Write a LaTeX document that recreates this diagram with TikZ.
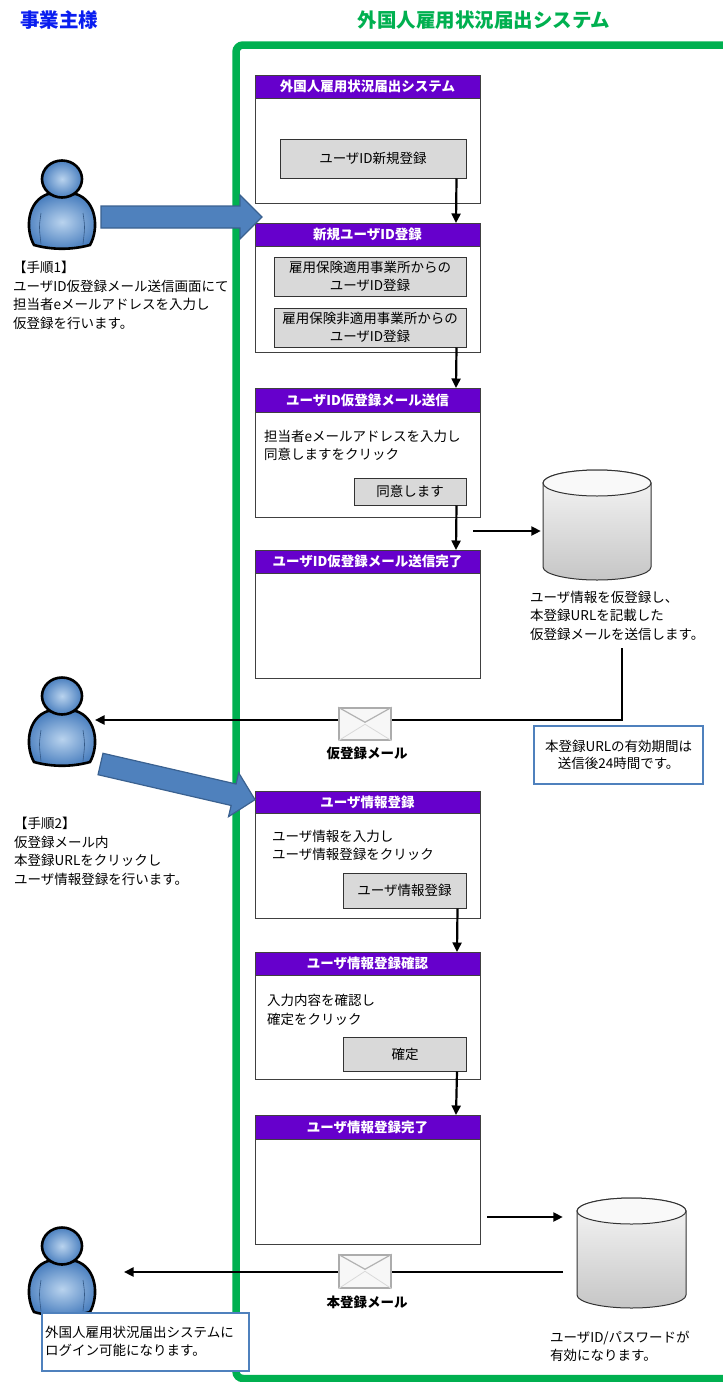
\documentclass[tikz,border=0pt]{standalone}
\usepackage{fontspec}
\setmainfont{Noto Sans CJK JP}
\usetikzlibrary{arrows.meta,calc}
\definecolor{grn}{HTML}{00B050}
\definecolor{hdrc}{HTML}{6600CC}
\definecolor{ttlblue}{HTML}{0A1EF0}
\definecolor{arrblue}{HTML}{4F81BD}
\definecolor{arrdark}{HTML}{3A6190}
\definecolor{btngray}{HTML}{D9D9D9}
\definecolor{pl}{HTML}{B9D3EE}
\definecolor{pd}{HTML}{4A7FBF}
\tikzset{
  screen/.style={draw=black!75, line width=1pt, fill=white, rectangle, anchor=north west,
    minimum width=225pt, inner sep=0pt, outer sep=0pt},
  hdr/.style={draw=black!75, line width=1pt, fill=hdrc, text=white, anchor=north,
    minimum width=225pt, minimum height=23pt, inner sep=0pt, outer sep=0pt,
    font=\fontsize{13.5}{15}\selectfont\bfseries},
  btn/.style={draw=black!80, line width=1pt, fill=btngray, rectangle, inner sep=0pt,
    align=center, font=\fontsize{13.5}{18}\selectfont},
  txt/.style={inner sep=0pt, align=left, anchor=west, font=\fontsize{13.5}{18.5}\selectfont},
  lbl/.style={inner sep=0pt, font=\fontsize{13.5}{16}\selectfont\bfseries},
  conn/.style={line width=2.2pt, -{Triangle[length=9.5pt,width=9pt]}},
  note/.style={draw=arrblue, line width=2.2pt, fill=white, inner sep=0pt, anchor=north west},
  env/.style={draw=gray!65, line width=1.5pt, fill=gray!6, minimum width=52pt,
    minimum height=32pt, inner sep=0pt},
  bigarrow/.style={fill=arrblue, draw=arrdark, line width=1.2pt},
  person/.pic={
    \shadedraw[inner color=pl, outer color=pd, draw=black, line width=2.6pt]
      (-28,66) .. controls (-37,50) and (-35,22) .. (-14,15) -- (14,15)
      .. controls (35,22) and (37,50) .. (28,66)
      .. controls (10,71) and (-10,71) .. (-28,66) -- cycle;
    \draw[pd!70!black, line width=0.6pt] (-21,34) .. controls (-23,48) .. (-21,65);
    \draw[pd!70!black, line width=0.6pt] (21,34) .. controls (23,48) .. (21,65);
    \shadedraw[inner color=pl, outer color=pd, draw=black, line width=2.6pt]
      (0,0) ellipse [x radius=20pt, y radius=18.5pt];
  }
}
\begin{document}
\begin{tikzpicture}[x=1pt,y=-1pt]
\useasboundingbox (0,0) rectangle (723,1382);

% titles
\node[inner sep=0pt, anchor=west, text=ttlblue, font=\fontsize{19.5}{22}\selectfont\bfseries] (t1) at (20,20) {事業主様};
\node[inner sep=0pt, text=grn, font=\fontsize{19.5}{22}\selectfont\bfseries] (t2) at (484,20) {外国人雇用状況届出システム};

% green frame
\draw[grn, line width=7.5pt, rounded corners=7pt] (780,45) -- (236,45) -- (236,1378.5) -- (780,1378.5);

% screens
\node[screen, minimum height=128pt] (s1) at (255,75) {};
\node[hdr] (h1) at (s1.north) {外国人雇用状況届出システム};
\node[screen, minimum height=129pt] (s2) at (255,223) {};
\node[hdr] (h2) at (s2.north) {新規ユーザID登録};
\node[screen, minimum height=129pt] (s3) at (255,388) {};
\node[hdr, minimum height=24pt] (h3) at (s3.north) {ユーザID仮登録メール送信};
\node[screen, minimum height=128pt] (s4) at (255,550) {};
\node[hdr] (h4) at (s4.north) {ユーザID仮登録メール送信完了};
\node[screen, minimum height=127pt] (s5) at (255,791) {};
\node[hdr, minimum height=22pt] (h5) at (s5.north) {ユーザ情報登録};
\node[screen, minimum height=127pt] (s6) at (255,952) {};
\node[hdr] (h6) at (s6.north) {ユーザ情報登録確認};
\node[screen, minimum height=129pt] (s7) at (255,1115) {};
\node[hdr, minimum height=24pt] (h7) at (s7.north) {ユーザ情報登録完了};

% buttons
\node[btn, minimum width=186pt, minimum height=39pt] (b1) at (373,158.5) {ユーザID新規登録};
\node[btn, minimum width=192pt, minimum height=39pt] (b2a) at (370,276.5) {雇用保険適用事業所からの\\ユーザID登録};
\node[btn, minimum width=192pt, minimum height=39pt] (b2b) at (370,327.5) {雇用保険非適用事業所からの\\ユーザID登録};
\node[btn, minimum width=112pt, minimum height=27pt] (b3) at (410,491.5) {同意します};
\node[btn, minimum width=123pt, minimum height=35pt] (b5) at (404.5,890.5) {ユーザ情報登録};
\node[btn, minimum width=123pt, minimum height=34pt] (b6) at (405,1054) {確定};

% texts inside screens
\node[txt] (x3) at (264,445.5) {担当者eメールアドレスを入力し\\同意しますをクリック};
\node[txt] (x5) at (272,845.5) {ユーザ情報を入力し\\ユーザ情報登録をクリック};
\node[txt] (x6) at (267,1010) {入力内容を確認し\\確定をクリック};

% vertical connectors
\draw[conn] ([xshift=-10pt]b1.south east) -- ([xshift=-24pt]s2.north east);
\draw[conn] ([xshift=-10pt]b2b.south east) -- ([xshift=-24pt]s3.north east);
\draw[conn] ([xshift=-10pt]b3.south east) -- ([xshift=-24pt]s4.north east);
\draw[conn] ([xshift=-9pt]b5.south east) -- ([xshift=-23pt]s6.north east);
\draw[conn] ([xshift=-10pt]b6.south east) -- ([xshift=-24pt]s7.north east);

% cylinders
\node[inner sep=0pt, minimum width=108pt, minimum height=110pt] (cyl1) at (597,525) {};
\shadedraw[top color=gray!6, bottom color=gray!45, draw=black!80, line width=1pt]
  (543,483) -- (543,567) arc[start angle=180, end angle=360, x radius=54pt, y radius=13pt]
  -- (651,483) arc[start angle=0, end angle=180, x radius=54pt, y radius=13pt] -- cycle;
\filldraw[fill=gray!5, draw=black!80, line width=1pt] (597,483) ellipse [x radius=54pt, y radius=13pt];

\node[inner sep=0pt, minimum width=109pt, minimum height=110pt] (cyl2) at (631.5,1253) {};
\shadedraw[top color=gray!6, bottom color=gray!45, draw=black!80, line width=1pt]
  (577,1211) -- (577,1295) arc[start angle=180, end angle=360, x radius=54.5pt, y radius=13pt]
  -- (686,1211) arc[start angle=0, end angle=180, x radius=54.5pt, y radius=13pt] -- cycle;
\filldraw[fill=gray!5, draw=black!80, line width=1pt] (631.5,1211) ellipse [x radius=54.5pt, y radius=13pt];

% horizontal arrows to DBs
\coordinate (h1s) at (473,531);
\draw[conn] (h1s) -- ([xshift=-2pt]h1s -| cyl1.west);
\coordinate (h2s) at (487,1217);
\draw[conn] (h2s) -- ([xshift=-14pt]h2s -| cyl2.west);

% DB texts
\node[txt] (d1) at (530,615.5) {ユーザ情報を仮登録し、\\本登録URLを記載した\\仮登録メールを送信します。};
\node[txt] (d2) at (550,1346.5) {ユーザID/パスワードが\\有効になります。};

% persons
\pic (p1) at (62,179) {person};
\pic (p2) at (62,696) {person};
\pic (p3) at (62,1246) {person};
\coordinate (p2in) at (95,720);
\coordinate (p3in) at (124,1272);

% return mails
\coordinate (r1) at (622,648);
\draw[conn] (r1) |- (p2in);
\node[env] (e1) at (365,724) {};
\draw[gray!30, line width=0.8pt] (e1.south west) -- ([yshift=-17pt]e1.north);
\draw[gray!30, line width=0.8pt] (e1.south east) -- ([yshift=-17pt]e1.north);
\draw[gray!60, line width=1.2pt] (e1.north west) -- ([yshift=-15pt]e1.north) -- (e1.north east);
\node[lbl] (m1) at (367,753) {仮登録メール};

\coordinate (r2) at (563,1272);
\draw[conn] (r2) -- (p3in);
\node[env, minimum height=33pt] (e2) at (365,1271.5) {};
\draw[gray!30, line width=0.8pt] (e2.south west) -- ([yshift=-17pt]e2.north);
\draw[gray!30, line width=0.8pt] (e2.south east) -- ([yshift=-17pt]e2.north);
\draw[gray!60, line width=1.2pt] (e2.north west) -- ([yshift=-15pt]e2.north) -- (e2.north east);
\node[lbl] (m2) at (367,1302) {本登録メール};

% notes
\node[note, minimum width=169pt, minimum height=58pt] (n1) at (533,725) {};
\node[inner sep=0pt, align=center, font=\fontsize{13.5}{17}\selectfont] (n1t) at (n1.center) {本登録URLの有効期間は\\送信後24時間です。};
\node[note, minimum width=207pt, minimum height=58pt] (n3) at (41,1312) {};
\node[txt, font=\fontsize{13.5}{18}\selectfont] (n3t) at (45,1341) {外国人雇用状況届出システムに\\ログイン可能になります。};

% step texts
\node[txt] (st1) at (13,295.5) {【手順1】\\ユーザID仮登録メール送信画面にて\\担当者eメールアドレスを入力し\\仮登録を行います。};
\node[txt] (st2) at (14,851.5) {【手順2】\\仮登録メール内\\本登録URLをクリックし\\ユーザ情報登録を行います。};

% big blue arrows
\draw[bigarrow] (101,206) -- (240,206) -- (240,195) -- (262,217) -- (240,239) -- (240,228) -- (101,228) -- cycle;
\begin{scope}[shift={(100.5,764)}, rotate=-13]
\draw[bigarrow] (0,-11) -- (136.6,-11) -- (136.6,-22.5) -- (158.6,0) -- (136.6,22.5) -- (136.6,11) -- (0,11) -- cycle;
\end{scope}
\end{tikzpicture}
\end{document}
